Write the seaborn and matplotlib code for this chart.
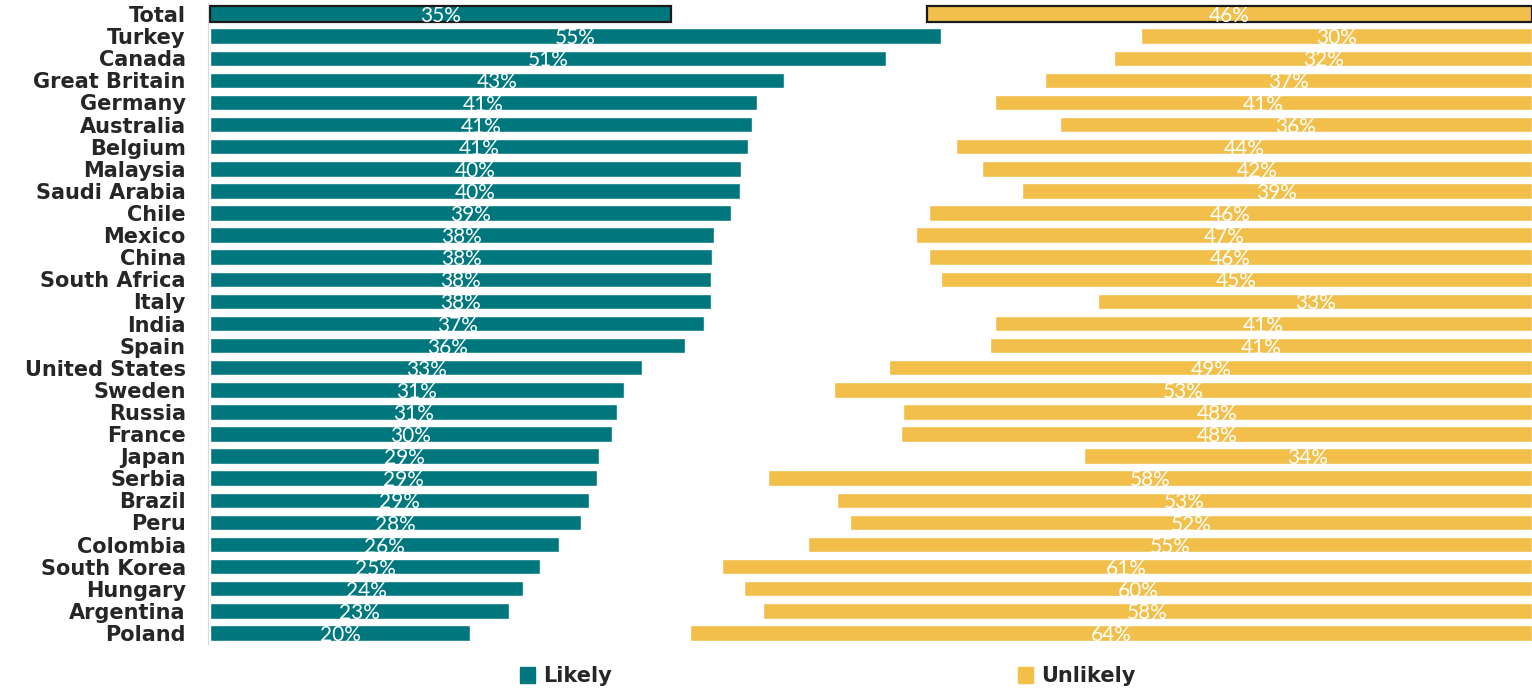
import numpy as np
import matplotlib.pyplot as plt
import seaborn as sns
from matplotlib.patches import Patch

# countries from top to bottom
countries = ['Total', 'Turkey', 'Canada', 'Great Britain', 'Germany', 'Australia',
             'Belgium', 'Malaysia', 'Saudi Arabia', 'Chile', 'Mexico', 'China',
             'South Africa', 'Italy', 'India', 'Spain', 'United States', 'Sweden',
             'Russia', 'France', 'Japan', 'Serbia', 'Brazil', 'Peru', 'Colombia',
             'South Korea', 'Hungary', 'Argentina', 'Poland']

# share of respondents (%)
likely = [34.9, 55.3, 51.1, 43.4, 41.4, 41.0, 40.7, 40.2, 40.1, 39.4, 38.1, 38.0,
          37.9, 37.9, 37.4, 35.9, 32.7, 31.3, 30.8, 30.4, 29.4, 29.3, 28.7, 28.1,
          26.4, 25.0, 23.7, 22.6, 19.7]
unlikely = [45.8, 29.6, 31.6, 36.8, 40.6, 35.7, 43.6, 41.6, 38.6, 45.6, 46.6, 45.6,
            44.7, 32.8, 40.6, 41.0, 48.6, 52.8, 47.6, 47.7, 33.9, 57.8, 52.6, 51.6,
            54.8, 61.3, 59.6, 58.2, 63.7]

TEAL = '#00777C'
GOLD = '#F1BF4A'

sns.set_style('white')

fig = plt.figure(figsize=(15.32, 6.89), dpi=100)
ax = fig.add_axes([208 / 1532, 1 - 644 / 689, 1 - 208 / 1532, 641 / 689])

sns.barplot(x=likely, y=countries, orient='h', color=TEAL, saturation=1,
            width=0.7, ax=ax)

# unlikely bars are anchored at the right end (100%)
pos = np.arange(len(countries))
unl = np.array(unlikely)
ubars = ax.barh(pos, unl, left=100 - unl, height=0.7, color=GOLD)

lbars = ax.containers[0]
for b in (lbars[0], ubars[0]):
    b.set_edgecolor('#1a1a1a')
    b.set_linewidth(1.6)

anns = ax.bar_label(lbars, labels=[f'{round(v)}%' for v in likely], label_type='center',
                    color='white', fontsize=15, family='Lato')
anns += ax.bar_label(ubars, labels=[f'{round(v)}%' for v in unlikely], label_type='center',
                     color='white', fontsize=15, family='Lato')
for a in anns:
    a.xyann = (0, -1.5)

ax.set_xlim(-0.15, 100)
ax.set_ylim(len(countries) - 0.5, -0.5)
ax.set_xticks([])
ax.set_xlabel('')
ax.set_ylabel('')
for s in ['top', 'right', 'bottom']:
    ax.spines[s].set_visible(False)
ax.spines['left'].set_color('#D9D9D9')

ax.set_yticks(pos)
ax.set_yticklabels(countries, fontsize=15, fontweight='bold', color='#262626')
ax.tick_params(axis='y', which='major', length=0, pad=16)
ax.set_yticks(np.arange(len(countries) + 1) - 0.5, minor=True)
ax.tick_params(axis='y', which='minor', length=5, color='#D0D0D0', width=1)

handles = [Patch(color=TEAL, label='Likely'), Patch(color=GOLD, label='Unlikely')]
fig.legend(handles=handles, loc='center', bbox_to_anchor=(828 / 1532, 1 - 676 / 689),
           ncol=2, frameon=False, prop={'weight': 'bold', 'size': 15},
           handlelength=0.7, handleheight=0.8, handletextpad=0.4,
           columnspacing=19.5)

fig.savefig('out.png', dpi=100)
